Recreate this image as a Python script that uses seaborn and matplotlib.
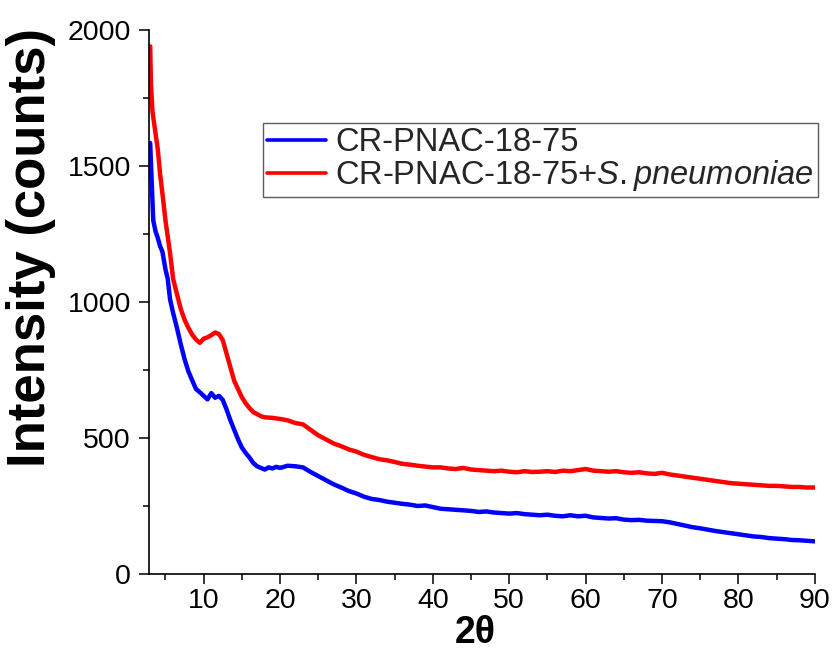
import pandas as pd
import matplotlib
matplotlib.use("Agg")
import matplotlib.pyplot as plt
import seaborn as sns

# XRD patterns (2theta in degrees, intensity in counts)
blue_x = [3.0, 3.2, 3.4, 3.7, 4.0, 4.3, 4.6, 5.0, 5.3, 5.6, 6.0, 6.5, 7.0, 7.5, 8.0, 8.5,
          9.0, 9.5, 10.0, 10.5, 11.0, 11.5, 12.0, 12.5, 13.0, 13.5, 14.0, 14.5, 15.0, 15.5,
          16.0, 16.5, 17.0, 17.5, 18.0, 18.5, 19.0, 19.5, 20.0, 21.0, 22.0, 23.0, 24.0,
          25.0, 26.0, 27.0, 28.0, 29.0, 30.0, 31.0, 32.0, 33.0, 34.0, 35.0, 36.0, 37.0,
          38.0, 39.0, 40.0, 41.0, 42.0, 43.0, 44.0, 45.0, 46.0, 47.0, 48.0, 49.0, 50.0,
          51.0, 52.0, 53.0, 54.0, 55.0, 56.0, 57.0, 58.0, 59.0, 60.0, 61.0, 62.0, 63.0,
          64.0, 65.0, 66.0, 67.0, 68.0, 69.0, 70.0, 71.0, 72.0, 73.0, 74.0, 75.0, 76.0,
          77.0, 78.0, 79.0, 80.0, 81.0, 82.0, 83.0, 84.0, 85.0, 86.0, 87.0, 88.0, 89.0, 90.0]
blue_y = [1585, 1440, 1300, 1260, 1235, 1205, 1185, 1120, 1085, 1010, 960, 905, 845, 790,
          745, 712, 680, 668, 655, 642, 665, 648, 655, 640, 605, 565, 530, 495, 465, 445,
          428, 408, 396, 390, 384, 392, 388, 394, 390, 398, 396, 392, 375, 360, 345, 330,
          318, 305, 296, 284, 276, 272, 266, 262, 258, 255, 250, 252, 246, 240, 238, 236,
          234, 232, 228, 230, 226, 224, 222, 224, 220, 218, 216, 218, 214, 212, 216, 212,
          214, 208, 206, 204, 205, 200, 198, 199, 196, 195, 194, 190, 184, 178, 172, 168,
          163, 158, 154, 150, 146, 142, 138, 136, 132, 130, 128, 125, 124, 122, 120]

red_x = [3.0, 3.1, 3.3, 3.6, 4.0, 4.3, 4.7, 5.0, 5.3, 5.6, 6.0, 6.5, 7.0, 7.5, 8.0, 8.5,
         9.0, 9.5, 10.0, 10.5, 11.0, 11.5, 12.0, 12.5, 13.0, 13.5, 14.0, 14.5, 15.0, 15.5,
         16.0, 16.5, 17.0, 17.5, 18.0, 19.0, 20.0, 21.0, 22.0, 23.0, 24.0, 25.0, 26.0,
         27.0, 28.0, 29.0, 30.0, 31.0, 32.0, 33.0, 34.0, 35.0, 36.0, 37.0, 38.0, 39.0,
         40.0, 41.0, 42.0, 43.0, 44.0, 45.0, 46.0, 47.0, 48.0, 49.0, 50.0, 51.0, 52.0,
         53.0, 54.0, 55.0, 56.0, 57.0, 58.0, 59.0, 60.0, 61.0, 62.0, 63.0, 64.0, 65.0,
         66.0, 67.0, 68.0, 69.0, 70.0, 71.0, 72.0, 73.0, 74.0, 75.0, 76.0, 77.0, 78.0,
         79.0, 80.0, 81.0, 82.0, 83.0, 84.0, 85.0, 86.0, 87.0, 88.0, 89.0, 90.0]
red_y = [1940, 1800, 1700, 1640, 1560, 1470, 1375, 1300, 1240, 1180, 1085, 1030, 975, 935,
         905, 880, 862, 850, 865, 870, 878, 888, 882, 860, 810, 760, 710, 680, 650, 628,
         610, 595, 588, 580, 576, 574, 570, 565, 555, 550, 530, 510, 495, 480, 470, 458,
         450, 438, 430, 422, 418, 412, 405, 402, 398, 395, 392, 392, 388, 386, 390, 384,
         382, 380, 378, 380, 376, 374, 378, 375, 376, 378, 375, 380, 378, 382, 386, 380,
         378, 376, 378, 374, 372, 374, 370, 368, 372, 366, 362, 358, 354, 350, 346, 342,
         338, 334, 332, 330, 328, 326, 324, 324, 322, 320, 320, 318, 318]

series_labels = ["CR-PNAC-18-75", "CR-PNAC-18-75+$\\mathit{S.pneumoniae}$"]
series_colors = ["#0000ff", "#ff0000"]

sns.set_style("ticks")
plt.rcParams['font.family'] = ['Liberation Sans', 'DejaVu Sans']
plt.rcParams['mathtext.fontset'] = 'custom'
plt.rcParams['mathtext.rm'] = 'Liberation Sans'
plt.rcParams['mathtext.it'] = 'Liberation Sans:italic'

fig = plt.figure(figsize=(8.34, 6.53), dpi=100)
ax = fig.add_axes([0.1787, 0.121, 0.7983, 0.833])

blue_df = pd.DataFrame({"two_theta": blue_x, "counts": blue_y})
red_df = pd.DataFrame({"two_theta": red_x, "counts": red_y})

sns.lineplot(data=blue_df, x="two_theta", y="counts", color=series_colors[0],
             linewidth=3.2, label=series_labels[0], ax=ax)
sns.lineplot(data=red_df, x="two_theta", y="counts", color=series_colors[1],
             linewidth=3.2, label=series_labels[1], ax=ax)

ax.set_xlim(2.85, 90)
ax.set_ylim(0, 2000)
ax.set_xticks([10, 20, 30, 40, 50, 60, 70, 80, 90])
ax.set_xticks([5, 15, 25, 35, 45, 55, 65, 75, 85], minor=True)
ax.set_yticks([0, 500, 1000, 1500, 2000])
ax.set_yticks([250, 750, 1250, 1750], minor=True)
ax.tick_params(which="major", length=7, width=1.1, labelsize=20.5, pad=6,
               direction="out", colors="black")
ax.tick_params(axis="x", which="major", pad=3)
ax.tick_params(which="minor", length=4, width=1.1, direction="out", colors="black")

sns.despine(ax=ax)
for side in ["left", "bottom"]:
    ax.spines[side].set_linewidth(1.2)
    ax.spines[side].set_color("black")

ax.set_xlabel("2\u03b8", fontsize=27, fontweight="bold", color="black")
ax.set_ylabel("Intensity (counts)", fontsize=38, fontweight="bold", color="black")
ax.xaxis.set_label_coords(0.49, -0.076)
ax.yaxis.set_label_coords(-0.14, 0.60)

leg = ax.legend(loc="upper left", bbox_to_anchor=(0.171, 0.829), borderaxespad=0,
                fontsize=23.5, frameon=True, fancybox=False, handlelength=1.8,
                handletextpad=0.3, borderpad=0.12, labelspacing=0.0)
leg.get_frame().set_edgecolor("#333333")
leg.get_frame().set_linewidth(1.0)
for line in leg.get_lines():
    line.set_linewidth(2.6)

fig.savefig("out.png", dpi=100)
